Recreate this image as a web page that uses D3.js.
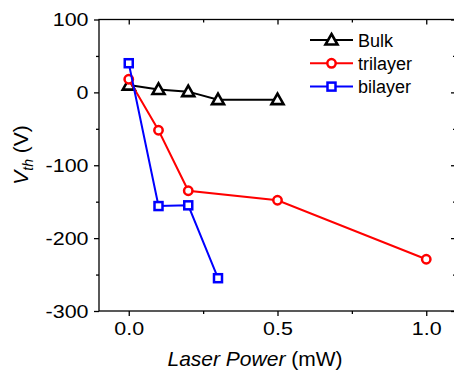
<!DOCTYPE html>
<html lang="en">
<head>
    <meta charset="UTF-8">
    <title>Vth vs laser power</title>
    <script src="https://cdn.jsdelivr.net/npm/d3@7"></script>
    <style>
        body{ margin: 0; background: #fff; }
        svg text{ font-family: "Liberation Sans", Arial, sans-serif; fill: #000; }
    </style>
</head>
<body>
<svg id="main" width="454" height="371"></svg>

<script>
    // data
    let bulk_x = [0, 0.1, 0.2, 0.3, 0.5]
    let bulk_y = [10, 4, 1, -10, -10]
    let tri_x = [0, 0.1, 0.2, 0.5, 1.0]
    let tri_y = [18, -52, -135, -148, -229]
    let bi_x = [0, 0.1, 0.2, 0.3]
    let bi_y = [40, -156, -155, -255]

    let x_ticks = [0, 0.5, 1.0]
    let x_minor = [0.25, 0.75]
    let y_ticks = [100, 0, -100, -200, -300]
    let y_minor = [50, -50, -150, -250]

    let series = [
        {name: "Bulk", x: bulk_x, y: bulk_y, color: "#000000", shape: "triangle"},
        {name: "trilayer", x: tri_x, y: tri_y, color: "#ff0000", shape: "circle"},
        {name: "bilayer", x: bi_x, y: bi_y, color: "#0000ff", shape: "square"}
    ]

    let svg = d3.select("#main")
    let mLeft = 99, mRight = 456, mTop = 19.5, mBottom = 311
    let stretch = 1.13   // tick labels in the figure are a bit wide

    let x = d3.scaleLinear().domain([-0.1, 1.1]).range([mLeft, mRight])
    let y = d3.scaleLinear().domain([-300, 100]).range([mBottom, mTop])

    // frame
    svg.append("rect")
        .attr("x", mLeft).attr("y", mTop)
        .attr("width", mRight - mLeft).attr("height", mBottom - mTop)
        .attr("fill", "none").attr("stroke", "#000").attr("stroke-width", 1.3)

    // bottom axis (outward ticks)
    let xAxis = svg.append("g").attr("transform", `translate(0,${mBottom})`)
        .call(d3.axisBottom(x).tickValues(x_ticks).tickSize(5).tickPadding(5.5)
            .tickFormat(d => d.toFixed(1)))
    xAxis.select(".domain").remove()
    xAxis.selectAll("text").style("font-size", "19px")
        .attr("transform", `scale(${stretch},1)`)
    svg.append("g").attr("transform", `translate(0,${mBottom})`)
        .call(d3.axisBottom(x).tickValues(x_minor).tickSize(3).tickFormat(""))
        .select(".domain").remove()

    // top axis (inward ticks)
    svg.append("g").attr("transform", `translate(0,${mTop})`)
        .call(d3.axisBottom(x).tickValues(x_ticks).tickSize(5).tickFormat(""))
        .select(".domain").remove()
    svg.append("g").attr("transform", `translate(0,${mTop})`)
        .call(d3.axisBottom(x).tickValues(x_minor).tickSize(3).tickFormat(""))
        .select(".domain").remove()

    // left axis
    let yAxis = svg.append("g").attr("transform", `translate(${mLeft},0)`)
        .call(d3.axisLeft(y).tickValues(y_ticks).tickSize(5).tickFormat(d => String(d)))
    yAxis.select(".domain").remove()
    yAxis.selectAll("text").style("font-size", "19px")
        .attr("x", -10.5 / stretch)
        .attr("transform", `scale(${stretch},1)`)
    svg.append("g").attr("transform", `translate(${mLeft},0)`)
        .call(d3.axisLeft(y).tickValues(y_minor).tickSize(3).tickFormat(""))
        .select(".domain").remove()

    // right axis (inward)
    svg.append("g").attr("transform", `translate(${mRight},0)`)
        .call(d3.axisLeft(y).tickValues(y_ticks).tickSize(5).tickFormat(""))
        .select(".domain").remove()
    svg.append("g").attr("transform", `translate(${mRight},0)`)
        .call(d3.axisLeft(y).tickValues(y_minor).tickSize(3).tickFormat(""))
        .select(".domain").remove()

    svg.selectAll(".tick line").attr("stroke", "#000").attr("stroke-width", 1.3)

    // axis labels
    let xl = svg.append("text")
        .attr("x", 255).attr("y", 366)
        .attr("text-anchor", "middle")
        .style("font-size", "21px")
    xl.append("tspan").attr("font-style", "italic").text("Laser Power")
    xl.append("tspan").text(" (mW)")

    let yl = svg.append("text")
        .attr("transform", "translate(28,155) rotate(-90)")
        .attr("text-anchor", "middle")
        .style("font-size", "21px")
    yl.append("tspan").attr("font-style", "italic").text("V")
    yl.append("tspan").attr("font-style", "italic").attr("dy", 5).style("font-size", "14px").text("th")
    yl.append("tspan").attr("dy", -5).text(" (V)")

    function marker(g, shape, color, cx, cy) {
        if (shape === "circle") {
            g.append("circle").attr("cx", cx).attr("cy", cy).attr("r", 4.2)
                .attr("fill", "#fff").attr("stroke", color).attr("stroke-width", 2.5)
        } else if (shape === "square") {
            g.append("rect").attr("x", cx - 4).attr("y", cy - 4).attr("width", 8).attr("height", 8)
                .attr("fill", "#fff").attr("stroke", color).attr("stroke-width", 2.5)
        } else {
            g.append("path")
                .attr("d", `M${cx},${cy - 6}L${cx + 6},${cy + 4.5}L${cx - 6},${cy + 4.5}Z`)
                .attr("fill", "#fff").attr("stroke", color).attr("stroke-width", 2.6)
                .attr("stroke-linejoin", "miter")
        }
    }

    let line = d3.line().x(d => x(d[0])).y(d => y(d[1]))

    series.forEach(function (s) {
        let pts = d3.zip(s.x, s.y)
        let g = svg.append("g")
        g.append("path").datum(pts).attr("d", line)
            .attr("fill", "none").attr("stroke", s.color).attr("stroke-width", 2)
        pts.forEach(p => marker(g, s.shape, s.color, x(p[0]), y(p[1])))
    })

    // legend
    let legend = svg.append("g")
    series.forEach(function (s, i) {
        let ly = 40 + i * 23.3
        legend.append("line").attr("x1", 310).attr("x2", 353).attr("y1", ly).attr("y2", ly)
            .attr("stroke", s.color).attr("stroke-width", 2)
        marker(legend, s.shape, s.color, 331.5, ly)
        legend.append("text").attr("x", 358).attr("y", ly + 6.5)
            .style("font-size", "18px").text(s.name)
    })
</script>
</body>
</html>
